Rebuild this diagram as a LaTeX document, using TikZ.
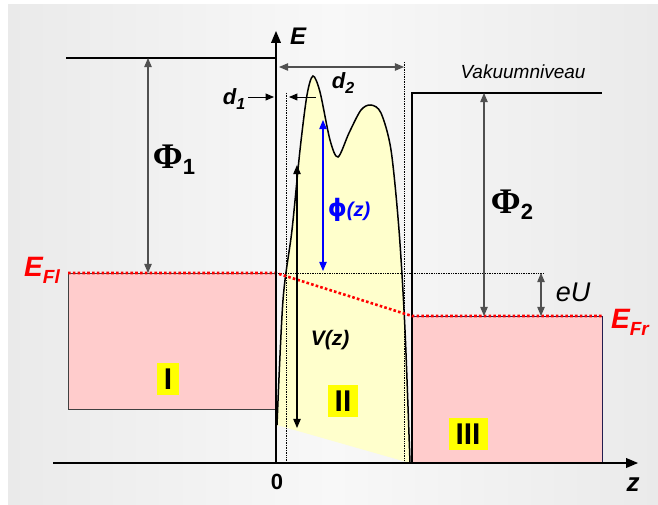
\documentclass[tikz,border=0pt]{standalone}
\usepackage{fontspec}
\setmainfont{Liberation Serif}
\setsansfont{Liberation Sans}
\newfontfamily\phifont{DejaVu Sans}
\usetikzlibrary{arrows}
\definecolor{bggray}{HTML}{EAEAEA}
\definecolor{bglight}{HTML}{F8F8F8}
\definecolor{metal}{HTML}{FFCCCC}
\definecolor{barrier}{HTML}{FFFFCC}
\definecolor{tag}{HTML}{FFFF00}
\definecolor{navy}{HTML}{231D4F}
\definecolor{dimgray}{HTML}{505050}
\tikzstyle{arrow} = [->, >=triangle 45]
\tikzstyle{dimarrow} = [<->, >=triangle 45, draw=dimgray, line width=1.1pt]
\tikzstyle{fermi} = [red, line width=2.6pt, dash pattern=on 2.6pt off 2.2pt]
\tikzstyle{guide} = [densely dotted, line width=0.7pt]
\tikzstyle{level} = [line width=1.6pt]
\tikzstyle{region} = [fill=tag, inner xsep=7pt, inner ysep=6pt, font=\sffamily\bfseries\fontsize{30}{30}\selectfont]
\newcommand{\lbl}[1]{\sffamily\bfseries\itshape\fontsize{#1}{#1}\selectfont}

\begin{document}
\begin{tikzpicture}[x=1pt,y=-1pt]
        \useasboundingbox (0,0) rectangle (658,505);
        \fill [white] (0,0) rectangle (658,505);
        \shade [left color=bggray, right color=bggray, middle color=bglight] (8,5) rectangle (658,505);
        % reference points
        \coordinate (orig) at (276,463);
        \coordinate (Etip) at (276,31);
        \coordinate (zbeg) at (53,463);
        \coordinate (ztip) at (638,463);
        \coordinate (vacL) at (66,58);
        \coordinate (vacLend) at (276,58);
        \coordinate (vacRbot) at (412,463);
        \coordinate (vacR) at (412,93);
        \coordinate (vacRend) at (602,93);
        \coordinate (fermiL) at (68,273);
        \coordinate (fermiLend) at (276,273);
        \coordinate (fermiR) at (412,316);
        \coordinate (fermiRend) at (602,316);
        % metals
        \draw [fill=metal, draw=black!75] (fermiL) rectangle (276,409);
        \draw [fill=metal, draw=navy] (fermiR) rectangle (602,463);
        % barrier
        \fill [barrier] plot [smooth] coordinates {(277,425) (283,300) (292,230) (300,150) (307,95) (313,76) (320,92) (330,140) (338,157) (349,133) (361,110) (371,105) (381,113) (391,150) (399,230) (405,330) (410,463)} -- cycle;
        \draw [line width=1.5pt] plot [smooth] coordinates {(277,425) (283,300) (292,230) (300,150) (307,95) (313,76) (320,92) (330,140) (338,157) (349,133) (361,110) (371,105) (381,113) (391,150) (399,230) (405,330) (410,463)};
        % guides
        \coordinate (g1top) at (286,93);
        \coordinate (g1bot) at (286,463);
        \coordinate (g2top) at (404,62);
        \coordinate (g2bot) at (404,463);
        \coordinate (eUtop) at (544,273);
        \draw [guide] (g1top) -- (g1bot);
        \draw [guide] (g2top) -- (g2bot);
        \draw [guide] (fermiLend) -- (eUtop);
        % levels
        \draw [level] (vacL) -- (vacLend);
        \draw [level] (vacRbot) -- (vacR) -- (vacRend);
        \draw [fermi] (fermiL) -- (fermiLend) -- (fermiR) -- (fermiRend);
        % axes
        \draw [arrow, line width=1.8pt] (zbeg) -- (ztip);
        \draw [arrow, line width=1.8pt] (orig) -- (Etip);
        \node (Elab) at (298,36) {\lbl{24}E};
        \node (zero) at (277,482) {\sffamily\bfseries\fontsize{22}{22}\selectfont 0};
        \node (zlab) at (633,485) {\lbl{26}z};
        % work functions
        \draw [dimarrow] (148,58) -- (148,273);
        \draw [dimarrow] (484,93) -- (484,316);
        \draw [dimarrow] (541,273) -- (541,316);
        \node (phi1) at (174,160) {\bfseries\fontsize{36}{36}\selectfont Φ\raisebox{-6pt}{\sffamily\bfseries\fontsize{22}{22}\selectfont 1}};
        \node (phi2) at (512,205) {\bfseries\fontsize{36}{36}\selectfont Φ\raisebox{-6pt}{\sffamily\bfseries\fontsize{22}{22}\selectfont 2}};
        \node (vac) at (523,72) {\sffamily\itshape\fontsize{19}{19}\selectfont Vakuumniveau};
        \node (eU) at (573,292) {\sffamily\itshape\fontsize{27}{27}\selectfont eU};
        \node [red] (EFl) at (42,270) {\lbl{28}E\raisebox{-7pt}{\lbl{19}Fl}};
        \node [red] (EFr) at (630,322) {\lbl{28}E\raisebox{-7pt}{\lbl{19}Fr}};
        % distances
        \draw [dimarrow] (279,67) -- (404,67);
        \draw [arrow, line width=0.9pt] (248,97) -- (274,97);
        \draw [arrow, line width=0.9pt] (316,97) -- (289,97);
        \node (d1) at (234,99) {\lbl{22}d\raisebox{-5pt}{\lbl{16}1}};
        \node (d2) at (343,83) {\lbl{22}d\raisebox{-5pt}{\lbl{16}2}};
        % potential
        \draw [<->, >=triangle 45, blue, line width=1.1pt] (323,120) -- (323,271);
        \node [blue] (phiz) at (349,210) {{\phifont\bfseries\fontsize{24}{24}\selectfont ϕ}\lbl{20}(z)};
        \draw [<->, >=triangle 45, line width=1.1pt] (297,165) -- (297,428);
        \node (Vz) at (330,340) {\lbl{21}V(z)};
        % regions
        \node [region] (r1) at (168,379) {I};
        \node [region] (r2) at (343,401) {II};
        \node [region] (r3) at (468,434) {III};
\end{tikzpicture}
\end{document}
